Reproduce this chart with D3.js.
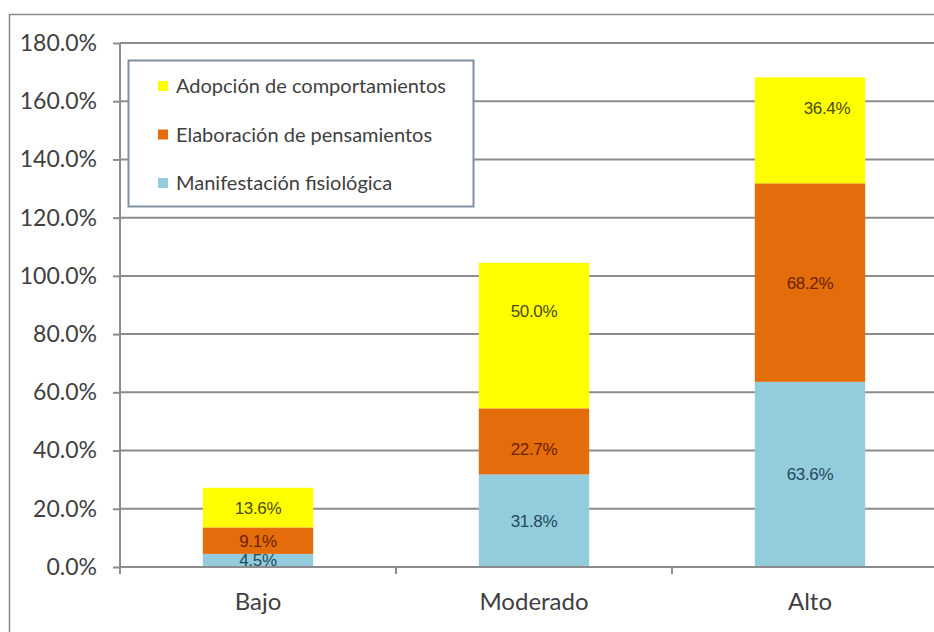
<!DOCTYPE html>
<html>
<head>
<meta charset="utf-8">
<script src="https://cdn.jsdelivr.net/npm/d3@7"></script>
<style>
  html, body { margin: 0; padding: 0; background: #fff; }
  svg { display: block; }
</style>
</head>
<body>
<div id="chart"></div>
<script>
// chart data
const categories = ['Bajo', 'Moderado', 'Alto'];
const seriesNames = ['Manifestación fisiológica', 'Elaboración de pensamientos', 'Adopción de comportamientos'];
const fisiologica = [4.5, 31.8, 63.6];
const pensamientos = [9.1, 22.7, 68.2];
const comportamientos = [13.6, 50.0, 36.4];
const yTicks = [0, 20, 40, 60, 80, 100, 120, 140, 160, 180];

const colors = ['#93cddd', '#e46c0a', '#ffff00'];
const labelColors = ['#23495a', '#6b2200', '#4a4a10'];

const W = 934, H = 632;
const margin = { left: 120, right: -14, top: 43, bottom: 65 };

const rows = categories.map((c, i) => ({
    cat: c,
    s0: fisiologica[i],
    s1: pensamientos[i],
    s2: comportamientos[i]
}));

const stack = d3.stack().keys(['s0', 's1', 's2']);
const layers = stack(rows);

const svg = d3.select('#chart').append('svg')
    .attr('width', W)
    .attr('height', H);

// outer chart border
svg.append('rect')
    .attr('x', 9.5).attr('y', 14.5)
    .attr('width', W).attr('height', H)
    .attr('fill', '#fff')
    .attr('stroke', '#8a8a8a')
    .attr('stroke-width', 1.5);

const x = d3.scaleBand()
    .domain(categories)
    .range([margin.left, W - margin.right])
    .paddingInner(0.6)
    .paddingOuter(0.3);

const y = d3.scaleLinear()
    .domain([0, 180])
    .range([H - margin.bottom, margin.top]);

// gridlines
svg.append('g')
    .selectAll('line')
    .data(yTicks.filter(t => t > 0))
    .enter().append('line')
    .attr('x1', margin.left)
    .attr('x2', W)
    .attr('y1', d => y(d))
    .attr('y2', d => y(d))
    .attr('stroke', '#8c8c8c')
    .attr('stroke-width', 2);

// bars
const layerG = svg.append('g')
    .selectAll('g')
    .data(layers)
    .enter().append('g')
    .attr('fill', (d, i) => colors[i]);

layerG.selectAll('rect')
    .data(d => d)
    .enter().append('rect')
    .attr('x', d => x(d.data.cat))
    .attr('width', x.bandwidth())
    .attr('y', d => y(d[1]))
    .attr('height', d => y(d[0]) - y(d[1]));

// a couple of Excel labels sit off-centre in the original
const nudge = { 'Alto|s2': [17, -22], 'Moderado|s2': [0, -25], 'Moderado|s1': [0, 8] };

layerG.each(function(layer, li) {
    d3.select(this).selectAll('text')
        .data(layer)
        .enter().append('text')
        .attr('x', d => x(d.data.cat) + x.bandwidth() / 2 + ((nudge[d.data.cat + '|' + layer.key] || [0, 0])[0]))
        .attr('y', d => (y(d[0]) + y(d[1])) / 2 + ((nudge[d.data.cat + '|' + layer.key] || [0, 0])[1]))
        .attr('dy', '0.35em')
        .attr('text-anchor', 'middle')
        .attr('fill', labelColors[li])
        .style('font-family', '"Liberation Sans", Arial, sans-serif')
        .style('font-size', '17px')
        .style('letter-spacing', '-0.3px')
        .text(d => (d[1] - d[0]).toFixed(1) + '%');
});

// y axis
const yAxis = d3.axisLeft(y)
    .tickValues(yTicks)
    .tickFormat(d => d.toFixed(1) + '%')
    .tickSize(7)
    .tickPadding(16);

const yg = svg.append('g')
    .attr('transform', `translate(${margin.left},0)`)
    .call(yAxis);
yg.select('.domain').attr('stroke', '#8c8c8c').attr('stroke-width', 2)
    .attr('d', `M0,${y(180)}V${y(0) + 7}`);
yg.selectAll('.tick line').attr('stroke', '#8c8c8c').attr('stroke-width', 2);
yg.selectAll('.tick text')
    .attr('fill', '#404040')
    .style('font-family', 'Lato, "Open Sans", sans-serif')
    .style('font-size', '23px');

// x axis
const xg = svg.append('g')
    .attr('transform', `translate(0,${y(0)})`);
xg.append('line')
    .attr('x1', margin.left).attr('x2', W)
    .attr('y1', 0).attr('y2', 0)
    .attr('stroke', '#8c8c8c').attr('stroke-width', 2);

const step = x.step();
xg.selectAll('.xtick')
    .data(d3.range(categories.length + 1))
    .enter().append('line')
    .attr('x1', i => margin.left + i * step)
    .attr('x2', i => margin.left + i * step)
    .attr('y1', 0).attr('y2', 7)
    .attr('stroke', '#8c8c8c').attr('stroke-width', 2);

xg.selectAll('.xlabel')
    .data(categories)
    .enter().append('text')
    .attr('x', d => x(d) + x.bandwidth() / 2)
    .attr('y', 35)
    .attr('dy', '0.35em')
    .attr('text-anchor', 'middle')
    .attr('fill', '#404040')
    .style('font-family', 'Lato, "Open Sans", sans-serif')
    .style('font-size', '24px')
    .text(d => d);

// legend
const legend = svg.append('g').attr('transform', 'translate(128,60)');
legend.append('rect')
    .attr('x', 0.5).attr('y', 0.5)
    .attr('width', 345).attr('height', 146)
    .attr('fill', '#fff')
    .attr('stroke', '#7f90a0')
    .attr('stroke-width', 2);

const legendOrder = [2, 1, 0];
const item = legend.selectAll('.item')
    .data(legendOrder)
    .enter().append('g')
    .attr('transform', (d, i) => `translate(30,${26 + i * 48.5})`);
item.append('rect')
    .attr('x', 0).attr('y', -5)
    .attr('width', 10).attr('height', 10)
    .attr('fill', d => colors[d]);
item.append('text')
    .attr('x', 18)
    .attr('dy', '0.35em')
    .attr('fill', '#404040')
    .style('font-family', 'Lato, "Open Sans", sans-serif')
    .style('font-size', '20px')
    .text(d => seriesNames[d]);
</script>
</body>
</html>
